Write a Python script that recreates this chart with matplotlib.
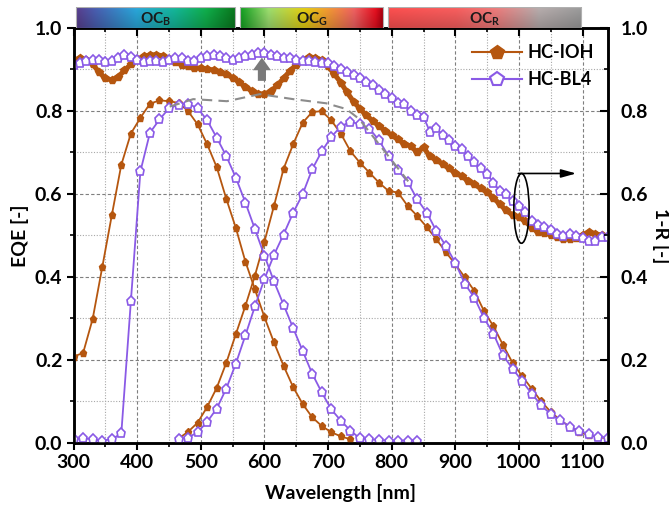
import numpy as np
import matplotlib
matplotlib.use('Agg')
import matplotlib.pyplot as plt
from matplotlib.patches import Ellipse, Rectangle
from matplotlib.colors import LinearSegmentedColormap, to_rgb
from matplotlib.ticker import MultipleLocator
from matplotlib.lines import Line2D

plt.rcParams['font.family'] = ['Lato', 'DejaVu Sans']
plt.rcParams['font.weight'] = 'bold'
plt.rcParams['mathtext.fontset'] = 'custom'
plt.rcParams['mathtext.rm'] = 'Lato:bold'
plt.rcParams['mathtext.bf'] = 'Lato:bold'
plt.rcParams['mathtext.it'] = 'Lato:bold'

# ---------------- data ----------------
series_names = ['HC-IOH', 'HC-BL4']

# EQE, HC-IOH, blue sub-cell
wl_ioh_1 = np.arange(300, 736, 15)
eqe_ioh_1 = [0.208, 0.217, 0.299, 0.423, 0.548, 0.670, 0.745, 0.783, 0.817, 0.825,
             0.823, 0.819, 0.799, 0.767, 0.719, 0.664, 0.588, 0.518, 0.437, 0.370,
             0.303, 0.242, 0.186, 0.135, 0.094, 0.062, 0.041, 0.026, 0.016, 0.009]
# EQE, HC-IOH, second sub-cell
wl_ioh_2 = np.arange(465, 1141, 15)
eqe_ioh_2 = [0.011, 0.027, 0.049, 0.087, 0.133, 0.193, 0.262, 0.330, 0.403, 0.485,
             0.571, 0.660, 0.719, 0.771, 0.797, 0.799, 0.777, 0.745, 0.703, 0.675,
             0.651, 0.627, 0.607, 0.603, 0.571, 0.547, 0.520, 0.491, 0.460, 0.430,
             0.399, 0.366, 0.318, 0.281, 0.236, 0.193, 0.161, 0.131, 0.100, 0.075,
             0.055, 0.039, 0.026, 0.019, 0.014, 0.011]
# EQE, HC-BL4
wl_bl4_1 = np.arange(300, 841, 15)
eqe_bl4_1 = [0.009, 0.011, 0.009, 0.006, 0.009, 0.023, 0.341, 0.654, 0.747, 0.779,
             0.806, 0.815, 0.817, 0.806, 0.777, 0.735, 0.691, 0.639, 0.579, 0.515,
             0.451, 0.389, 0.333, 0.277, 0.222, 0.167, 0.122, 0.081, 0.054, 0.030,
             0.011, 0.009, 0.007, 0.006, 0.005, 0.006, 0.006]
wl_bl4_2 = np.arange(465, 1141, 15)
eqe_bl4_2 = [0.009, 0.013, 0.026, 0.051, 0.083, 0.131, 0.191, 0.259, 0.329, 0.395,
             0.453, 0.502, 0.554, 0.599, 0.659, 0.702, 0.737, 0.762, 0.774, 0.767,
             0.757, 0.729, 0.691, 0.657, 0.629, 0.587, 0.555, 0.511, 0.475, 0.434,
             0.383, 0.350, 0.301, 0.263, 0.211, 0.179, 0.149, 0.119, 0.091, 0.069,
             0.055, 0.039, 0.030, 0.021, 0.015, 0.013]

# 1-R (right axis)
wl_r = np.arange(300, 1141, 10)
r_ioh = [0.921, 0.927, 0.922, 0.912, 0.893, 0.878, 0.874, 0.882, 0.897, 0.912,
         0.924, 0.931, 0.934, 0.935, 0.932, 0.925, 0.917, 0.911, 0.907, 0.904,
         0.902, 0.900, 0.898, 0.894, 0.888, 0.880, 0.870, 0.858, 0.848, 0.841,
         0.840, 0.847, 0.861, 0.878, 0.896, 0.911, 0.923, 0.929, 0.928, 0.922,
         0.907, 0.888, 0.868, 0.844, 0.822, 0.805, 0.789, 0.776, 0.764, 0.752,
         0.741, 0.731, 0.721, 0.714, 0.701, 0.712, 0.690, 0.682, 0.672, 0.661,
         0.651, 0.642, 0.632, 0.623, 0.613, 0.604, 0.590, 0.575, 0.560, 0.549,
         0.544, 0.534, 0.518, 0.509, 0.505, 0.502, 0.497, 0.492, 0.491, 0.494,
         0.501, 0.508, 0.504, 0.500, 0.498]
r_bl4 = [0.911, 0.915, 0.921, 0.923, 0.923, 0.917, 0.919, 0.927, 0.934, 0.929,
         0.923, 0.917, 0.921, 0.921, 0.917, 0.923, 0.927, 0.927, 0.921, 0.921,
         0.926, 0.931, 0.934, 0.931, 0.927, 0.923, 0.927, 0.931, 0.935, 0.938,
         0.938, 0.935, 0.931, 0.927, 0.927, 0.923, 0.919, 0.921, 0.918, 0.915,
         0.914, 0.907, 0.901, 0.894, 0.886, 0.879, 0.870, 0.862, 0.850, 0.841,
         0.830, 0.819, 0.816, 0.799, 0.790, 0.785, 0.750, 0.758, 0.742, 0.730,
         0.715, 0.707, 0.691, 0.677, 0.661, 0.647, 0.627, 0.607, 0.599, 0.583,
         0.571, 0.557, 0.534, 0.524, 0.519, 0.513, 0.504, 0.499, 0.503, 0.498,
         0.494, 0.487, 0.487, 0.497, 0.497]

# gray dashed envelope
wl_env = [451, 488, 541, 593, 645, 697, 729, 749, 786, 826]
env = [0.810, 0.828, 0.823, 0.840, 0.828, 0.818, 0.804, 0.780, 0.708, 0.630]

# colour bands on top
band_labels = [r'OC$_\mathregular{B}$', r'OC$_\mathregular{G}$', r'OC$_\mathregular{R}$']
band_ranges = [(304.5, 553.5), (562, 785.6), (794, 1098)]

# ---------------- style ----------------
C_IOH = '#b5560f'
C_BL4 = '#8a5ae6'
band_stops = [
    [(0.0, '#5a3e8e'), (0.12, '#4a5fb2'), (0.38, '#2aa8dc'), (0.62, '#14b89a'),
     (0.82, '#10b04c'), (1.0, '#0a7a1e')],
    [(0.0, '#10a020'), (0.2, '#9ee070'), (0.45, '#e6d010'), (0.6, '#f5a030'),
     (0.8, '#f26262'), (0.95, '#e81020'), (1.0, '#b00010')],
    [(0.0, '#ff5050'), (0.35, '#fa5f5f'), (0.55, '#f07c7c'), (0.78, '#b8aeae'),
     (1.0, '#9c9c9c')],
]

fig = plt.figure(figsize=(6.69, 5.13), dpi=100)
L, R = 73.6 / 669, 608 / 669
B, T = 1 - 443 / 513, 1 - 27.7 / 513
ax = fig.add_axes([L, B, R - L, T - B])

ax.set_xlim(300, 1140)
ax.set_ylim(0, 1.0)

ax.xaxis.set_major_locator(MultipleLocator(100))
ax.xaxis.set_minor_locator(MultipleLocator(50))
ax.yaxis.set_major_locator(MultipleLocator(0.2))
ax.yaxis.set_minor_locator(MultipleLocator(0.1))
ax.grid(which='major', color='#7f7f7f', linestyle=(0, (3, 2)), linewidth=0.8)
ax.grid(which='minor', color='#a8a8a8', linestyle=(0, (1, 1.5)), linewidth=0.8)
ax.set_axisbelow(True)

ms = 5.2
lw = 1.3
# 1-R
ax.plot(wl_r, r_ioh, color=C_IOH, lw=3.6, marker='p', ms=5.8, mfc=C_IOH, mec=C_IOH, zorder=3)
ax.plot(wl_r, r_bl4, color=C_BL4, lw=1.3, marker='p', ms=6.6, mfc='white', mec=C_BL4, mew=1.2, zorder=4)
# EQE
for wl, v in [(wl_ioh_1, eqe_ioh_1), (wl_ioh_2, eqe_ioh_2)]:
    ax.plot(wl, v, color=C_IOH, lw=lw, marker='p', ms=ms, mfc=C_IOH, mec=C_IOH, zorder=3)
for wl, v in [(wl_bl4_1, eqe_bl4_1), (wl_bl4_2, eqe_bl4_2)]:
    ax.plot(wl, v, color=C_BL4, lw=lw, marker='p', ms=6.6, mfc='white', mec=C_BL4, mew=1.2, zorder=4)
ax.plot(wl_env, env, color='#8c8c8c', lw=1.5, linestyle=(0, (5, 3)), zorder=5)

# gray up arrow
ax.annotate('', xy=(596, 0.928), xytext=(596, 0.872),
            arrowprops=dict(arrowstyle='simple,head_width=1.0,head_length=0.7,tail_width=0.45',
                            color='#7a7a7a', lw=0, mutation_scale=13, shrinkA=0, shrinkB=0),
            zorder=6)
# ellipse + arrow
ax.add_patch(Ellipse((1004, 0.565), width=24, height=0.168, fill=False,
                     edgecolor='black', lw=1.2, zorder=6))
ax.annotate('', xy=(1090, 0.649), xytext=(999, 0.649),
            arrowprops=dict(arrowstyle='-|>,head_length=0.9,head_width=0.25',
                            color='black', lw=1.2, shrinkA=0, shrinkB=0), zorder=6)

fs = 14
ax.tick_params(axis='x', which='major', direction='out', length=5, width=1.5, labelsize=fs,
               top=False, pad=3)
ax.tick_params(axis='x', which='minor', direction='out', length=3, width=1.2, top=False)
ax.tick_params(axis='y', which='major', direction='out', length=5, width=1.5, labelsize=fs, pad=3)
ax.tick_params(axis='y', which='minor', direction='out', length=3, width=1.2)
for sp in ax.spines.values():
    sp.set_linewidth(1.8)
ax.set_yticks([0, 0.2, 0.4, 0.6, 0.8, 1.0])
ax.set_yticklabels(['0.0', '0.2', '0.4', '0.6', '0.8', '1.0'])

ax.set_xlabel('Wavelength [nm]', fontsize=fs, fontweight='bold', labelpad=9)
ax.set_ylabel('EQE [-]', fontsize=fs, fontweight='bold', labelpad=4)

# secondary axes for right axis and top ticks
ax2 = ax.twinx()
ax2.set_ylim(0, 1.0)
ax2.yaxis.set_minor_locator(MultipleLocator(0.1))
ax2.set_yticks([0, 0.2, 0.4, 0.6, 0.8, 1.0])
ax2.set_yticklabels(['0.0', '0.2', '0.4', '0.6', '0.8', '1.0'])
ax2.tick_params(axis='y', which='major', direction='in', length=6, width=1.5, labelsize=fs, pad=9)
ax2.tick_params(axis='y', which='minor', direction='in', length=3, width=1.2)
ax2.set_ylabel('1-R [-]', fontsize=fs, fontweight='bold', rotation=270, labelpad=16)
for sp in ax2.spines.values():
    sp.set_linewidth(1.8)

ax3 = ax.twiny()
ax3.set_xlim(300, 1140)
ax3.xaxis.set_major_locator(MultipleLocator(100))
ax3.xaxis.set_minor_locator(MultipleLocator(50))
ax3.tick_params(axis='x', which='major', direction='in', length=6, width=1.5, labeltop=False)
ax3.tick_params(axis='x', which='minor', direction='in', length=3, width=1.2)
ax3.set_xticklabels([])

# legend
handles = [Line2D([], [], color=C_IOH, lw=1.5, marker='p', ms=10.5, mfc=C_IOH, mec=C_IOH),
           Line2D([], [], color=C_BL4, lw=1.5, marker='p', ms=10.5, mfc='white', mec=C_BL4, mew=1.5)]
leg = ax2.legend(handles, series_names, loc='upper left', bbox_to_anchor=(0.716, 1.0),
                 frameon=False, fontsize=13, handlelength=2.75, handletextpad=0.3,
                 labelspacing=0.55)
for t in leg.get_texts():
    t.set_fontweight('bold')

# colour bands
axb = fig.add_axes([L, T, R - L, (1 - 7 / 513) - T])
axb.set_xlim(300, 1140)
axb.set_ylim(0, 1)
axb.axis('off')
shade = np.linspace(1.0, 0.82, 24)[:, None, None]
for lab, (x0, x1), stops in zip(band_labels, band_ranges, band_stops):
    cmap = LinearSegmentedColormap.from_list('b', [(p, to_rgb(c)) for p, c in stops])
    row = cmap(np.linspace(0, 1, 256))[:, :3][None, :, :]
    img = np.clip(row * shade, 0, 1)
    axb.imshow(img, extent=(x0, x1, 0, 1), aspect='auto', interpolation='bilinear', zorder=1)
    axb.add_patch(Rectangle((x0, 0), x1 - x0, 1, fill=False, edgecolor='#b0b0b0', lw=0.8, zorder=2))
    axb.text((x0 + x1) / 2, 0.42, lab, ha='center', va='center', fontsize=11,
             fontweight='bold', color='#1a1a1a', zorder=3)
axb.set_xlim(300, 1140)
axb.set_ylim(0, 1)

fig.savefig('out.png', dpi=100)
